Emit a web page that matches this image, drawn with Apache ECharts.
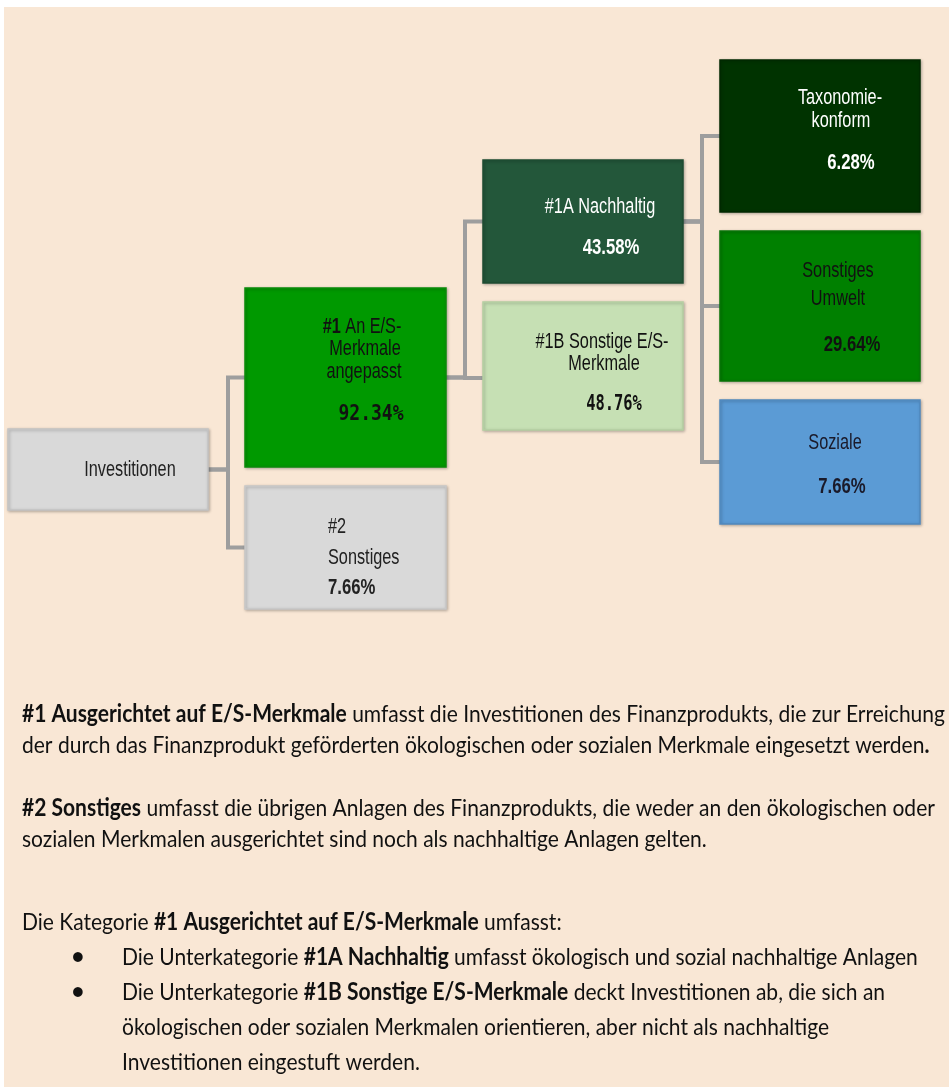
<!DOCTYPE html>
<html><head><meta charset="utf-8">
<script src="https://cdn.jsdelivr.net/npm/echarts@6/dist/echarts.min.js"></script>
<style>html,body{margin:0;padding:0;background:#fff}#c{width:949px;height:1090px}</style>
</head><body><div id="c"></div><script>
// ---------- data ----------
const nodeIds     = ['inv', 'e1', 'e2', 'e1a', 'e1b', 'tax', 'umw', 'soz'];
const nodeLabels  = [['Investitionen'], ['#1 An E/S-', 'Merkmale', 'angepasst'], ['#2', 'Sonstiges'],
                     ['#1A Nachhaltig'], ['#1B Sonstige E/S-', 'Merkmale'], ['Taxonomie-', 'konform'],
                     ['Sonstiges', 'Umwelt'], ['Soziale']];
const nodeValues  = [null, 92.34, 7.66, 43.58, 48.76, 6.28, 29.64, 7.66];
const nodeParents = [null, 'inv', 'inv', 'e1', 'e1', 'e1a', 'e1a', 'e1a'];
const boldPrefix  = [null, '#1', null, null, null, null, null, null];

const notes = [
  [['b', '#1 Ausgerichtet auf E/S-Merkmale'], ['n', ' umfasst die Investitionen des Finanzprodukts, die zur Erreichung']],
  [['n', 'der durch das Finanzprodukt geförderten ökologischen oder sozialen Merkmale eingesetzt werden'], ['b', '.']],
  [['b', '#2 Sonstiges'], ['n', ' umfasst die übrigen Anlagen des Finanzprodukts, die weder an den ökologischen oder']],
  [['n', 'sozialen Merkmalen ausgerichtet sind noch als nachhaltige Anlagen gelten.']],
  [['n', 'Die Kategorie '], ['b', '#1 Ausgerichtet auf E/S-Merkmale'], ['n', ' umfasst:']],
  [['n', 'Die Unterkategorie '], ['b', '#1A Nachhaltig'], ['n', ' umfasst ökologisch und sozial nachhaltige Anlagen']],
  [['n', 'Die Unterkategorie '], ['b', '#1B Sonstige E/S-Merkmale'], ['n', ' deckt Investitionen ab, die sich an']],
  [['n', 'ökologischen oder sozialen Merkmalen orientieren, aber nicht als nachhaltige']],
  [['n', 'Investitionen eingestuft werden.']]
];
const noteBullets = [false, false, false, false, false, true, true, false, false];

// ---------- layout / style ----------
const BOXFONT = '"Liberation Sans", Arial, sans-serif';
const MONO = '"DejaVu Sans Mono", "Liberation Mono", monospace';
const BODY = 'Lato, "Open Sans", sans-serif';
const BOX_SIZE = 22, BOX_SCALE = 0.74, VAL_SCALE = 0.76;
const layout = {
  inv: {x: 8,   y: 429, w: 200, h: 81,  fill: '#D9D9D9', stroke: '#C4C4C4', color: '#222', elbowX: 228, lines: [[130, 470]], val: null, align: 'center'},
  e1:  {x: 245, y: 288, w: 201, h: 179, fill: '#009900', stroke: '#0A8A0A', color: '#111', elbowX: 465, lines: [[362, 327], [365, 349], [364, 372]], val: [371, 414], align: 'center', monoScale: 0.82},
  e2:  {x: 245, y: 486, w: 201, h: 123, fill: '#D9D9D9', stroke: '#C8C8C8', color: '#222', lines: [[328, 527], [328, 558]], val: [328, 588], align: 'left'},
  e1a: {x: 483, y: 160, w: 200, h: 123, fill: '#23573A', stroke: '#1E4C32', color: '#fff', elbowX: 702, lines: [[600, 207]], val: [611, 248], align: 'center'},
  e1b: {x: 483, y: 302, w: 200, h: 128, fill: '#C6E0B4', stroke: '#B5CFA3', color: '#111', entryY: 378, lines: [[602, 342], [604, 364]], val: [614, 404], align: 'center', monoScale: 0.7},
  tax: {x: 720, y: 60,  w: 200, h: 152, fill: '#003300', stroke: '#002800', color: '#fff', lines: [[840, 98], [841, 121]], val: [851, 163], align: 'center'},
  umw: {x: 720, y: 231, w: 200, h: 150, fill: '#008000', stroke: '#077307', color: '#111', lines: [[838, 271], [838, 299]], val: [852, 345], align: 'center'},
  soz: {x: 720, y: 400, w: 200, h: 124, fill: '#5B9BD5', stroke: '#5089BE', color: '#1a1a2a', lines: [[835, 443]], val: [842, 487], align: 'center'}
};
const noteLayout = {x: 22, bulletX: 78, indentX: 122, ys: [714, 745, 808, 839, 922, 957, 992, 1027, 1062], firstWidth: 923, size: 24};

// ---------- build ----------
const els = [];
els.push({type: 'rect', shape: {x: 4, y: 7, width: 945, height: 1080}, style: {fill: '#F9E7D5'}, z: 0});

// connectors
nodeIds.forEach((id, i) => {
  const p = nodeParents[i];
  if (!p) return;
  const P = layout[p], C = layout[id];
  const py = P.y + P.h / 2;
  const cy = C.entryY != null ? C.entryY : C.y + C.h / 2;
  els.push({type: 'polyline', z: 1,
    shape: {points: [[P.x + P.w, py], [P.elbowX, py], [P.elbowX, cy], [C.x, cy]]},
    style: {stroke: '#9E9E9E', lineWidth: 4, fill: null, lineJoin: 'miter'}});
});

// boxes and labels
nodeIds.forEach((id, i) => {
  const L = layout[id];
  els.push({type: 'rect', z: 2, shape: {x: L.x, y: L.y, width: L.w, height: L.h},
    style: {fill: L.fill, stroke: L.stroke, lineWidth: 1.5, shadowBlur: 3, shadowColor: 'rgba(0,0,0,0.25)', shadowOffsetX: 1, shadowOffsetY: 1}});
  nodeLabels[i].forEach((t, k) => {
    const pos = L.lines[k];
    const rich = {n: {fontFamily: BOXFONT, fontSize: BOX_SIZE, fill: L.color},
                  b: {fontFamily: BOXFONT, fontSize: BOX_SIZE, fontWeight: 'bold', fill: L.color}};
    let text;
    if (k === 0 && boldPrefix[i] && t.startsWith(boldPrefix[i])) {
      text = '{b|' + boldPrefix[i] + '}{n|' + t.slice(boldPrefix[i].length) + '}';
    } else {
      text = '{n|' + t + '}';
    }
    els.push({type: 'text', z: 3, x: pos[0], y: pos[1], scaleX: BOX_SCALE,
      style: {text: text, rich: rich, align: L.align, verticalAlign: 'middle'}});
  });
  if (nodeValues[i] != null && L.val) {
    const mono = L.monoScale != null;
    els.push({type: 'text', z: 3, x: L.val[0], y: L.val[1], scaleX: mono ? L.monoScale : VAL_SCALE,
      style: {text: nodeValues[i].toFixed(2) + '%', fontFamily: mono ? MONO : BOXFONT, fontSize: BOX_SIZE,
        fontWeight: 'bold', fill: L.color, align: L.align, verticalAlign: 'middle'}});
  }
});

// notes (condensed to fit the first line's width)
const ctx = document.createElement('canvas').getContext('2d');
function measure(segs) {
  let w = 0;
  segs.forEach(s => {
    ctx.font = (s[0] === 'b' ? 'bold ' : '') + noteLayout.size + 'px ' + BODY;
    w += ctx.measureText(s[1]).width;
  });
  return w;
}
const scale = noteLayout.firstWidth / measure(notes[0]);
const noteRich = {
  n: {fontFamily: BODY, fontSize: noteLayout.size, fill: '#111'},
  b: {fontFamily: BODY, fontSize: noteLayout.size, fontWeight: 'bold', fill: '#111'}
};
notes.forEach((segs, i) => {
  const indent = (i >= 5) ? noteLayout.indentX : noteLayout.x;
  els.push({type: 'text', z: 3, x: indent, y: noteLayout.ys[i], scaleX: scale,
    style: {text: segs.map(s => '{' + s[0] + '|' + s[1] + '}').join(''), rich: noteRich, align: 'left', verticalAlign: 'middle'}});
  if (noteBullets[i]) {
    els.push({type: 'text', z: 3, x: noteLayout.bulletX, y: noteLayout.ys[i],
      style: {text: '•', fontFamily: BODY, fontSize: 22, fontWeight: 'bold', fill: '#111', align: 'center', verticalAlign: 'middle'}});
  }
});

const chart = echarts.init(document.getElementById('c'), null, {renderer: 'canvas'});
chart.setOption({backgroundColor: '#ffffff', animation: false, graphic: {elements: els}});
</script></body></html>
